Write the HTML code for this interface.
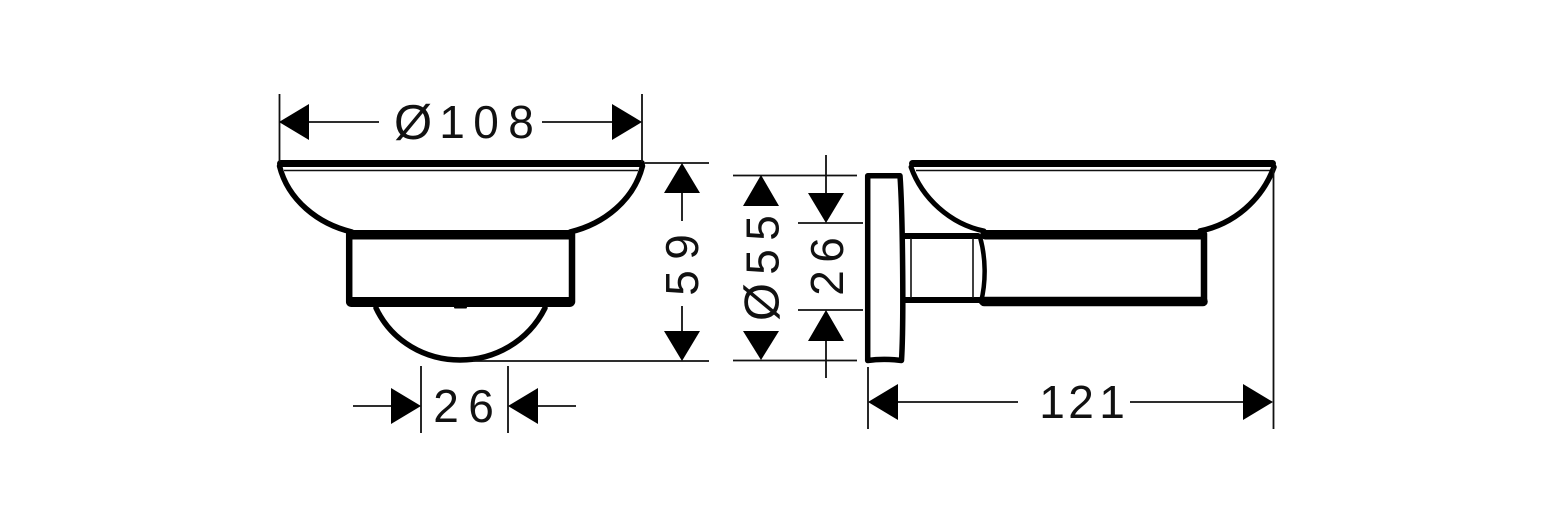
<!DOCTYPE html>
<html lang="en">
<head>
<meta charset="utf-8">
<title>Soap dish dimensions</title>
<style>
html,body{margin:0;padding:0;background:#fff;width:1552px;height:528px;overflow:hidden}
svg{display:block;filter:blur(0.35px)}
text{font-family:"Liberation Sans",sans-serif;font-size:46px;fill:#111;text-anchor:middle}
text.d{font-size:49px}
.t{fill:none;stroke:#111;stroke-width:1.6}
.h{fill:none;stroke:#000;stroke-linecap:round;stroke-linejoin:round}
.a{fill:#000}
</style>
</head>
<body>
<svg width="1552" height="528" viewBox="0 0 1552 528" xmlns="http://www.w3.org/2000/svg">
<rect width="1552" height="528" fill="#fff"/>
<g id="left-view">
  <path class="h" stroke-width="7" d="M280.500 163.500H641.500"/>
  <path class="t" d="M284 170.500H638"/>
  <path class="h" stroke-width="5.500" d="M279.500 166C288 200 318 224 352 232"/>
  <path class="h" stroke-width="5.500" d="M642.500 166C634 200 604 224 570 232"/>
  <path class="h" stroke-width="9.500" d="M351 234.700H570"/>
  <path class="h" stroke-width="6.500" d="M349.200 234V302M572 234V302"/>
  <path class="h" stroke-width="10" d="M351 302H570"/>
  <path class="h" stroke-width="5.500" d="M376 308C392 342 426 360 460 360C494 360 528 342 545 308"/>
  <path class="h" stroke-width="2" d="M455 307.500H466"/>
</g>
<g id="right-view">
  <path class="h" stroke-width="5.500" d="M867.700 175.800H900C902.500 210 904 320 901.500 360.500C890 359 878 359 867.700 360.500Z"/>
  <path class="h" stroke-width="7" d="M912.500 163.500H1272.500"/>
  <path class="t" d="M916 170.500H1270"/>
  <path class="h" stroke-width="5" d="M911 167C922 198 950 224 984 231"/>
  <path class="h" stroke-width="5.500" d="M1274 167C1262 200 1234 224 1200 231"/>
  <path class="h" stroke-width="9.500" d="M985 234.700H1202"/>
  <path class="h" stroke-width="6.500" d="M1204 234V302"/>
  <path class="h" stroke-width="9.500" d="M984 301.500H1203"/>
  <path class="h" stroke-width="6" d="M905 236H978M905 300H980"/>
  <path class="t" d="M911 238V298M973 238V298"/>
  <path class="h" stroke-width="4.500" d="M980 237C986 258 986 282 981 302"/>
</g>
<g id="dims" stroke="#111" stroke-width="1.800" fill="none">
  <path d="M279.500 94V162M642 94V162"/>
  <path d="M309 122H379M542 122H612"/>
  <path d="M645 163H709M473 361H709"/>
  <path d="M682 193V221M682 306V331"/>
  <path d="M421 366V433M508 366V433"/>
  <path d="M353 406H391M538 406H576"/>
  <path d="M733 175.500H857M733 360.500H857"/>
  <path d="M798 223H863M798 310H863"/>
  <path d="M826 155V193M826 341V378"/>
  <path d="M868 367V429M1273.500 168V429"/>
  <path d="M898 402H1018M1130 402H1243"/>
</g>
<g id="arrows" class="a">
  <path d="M279 122L309 104V140Z"/>
  <path d="M642 122L612 104V140Z"/>
  <path d="M682 163L664 193H700Z"/>
  <path d="M682 361L664 331H700Z"/>
  <path d="M421 406L391 388V424Z"/>
  <path d="M508 406L538 388V424Z"/>
  <path d="M761 175L743 206H779Z"/>
  <path d="M761 360L743 331H779Z"/>
  <path d="M826 223L808 193H844Z"/>
  <path d="M826 310L808 341H844Z"/>
  <path d="M868 402L898 384V420Z"/>
  <path d="M1273 402L1243 384V420Z"/>
</g>
<g id="labels">
  <text class="d" x="413" y="139">Ø</text>
  <text x="452 486 521" y="138">108</text>
  <text x="446 481" y="422">26</text>
  <text x="1052 1081 1112" y="418">121</text>
  <g transform="translate(698 0) rotate(-90)"><text x="-283 -247" y="0">59</text></g>
  <g transform="translate(778.500 0) rotate(-90)"><text class="d" x="-302" y="0">Ø</text><text x="-262 -228" y="0">55</text></g>
  <g transform="translate(843 0) rotate(-90)"><text x="-283 -250" y="0">26</text></g>
</g>
</svg>
</body>
</html>
